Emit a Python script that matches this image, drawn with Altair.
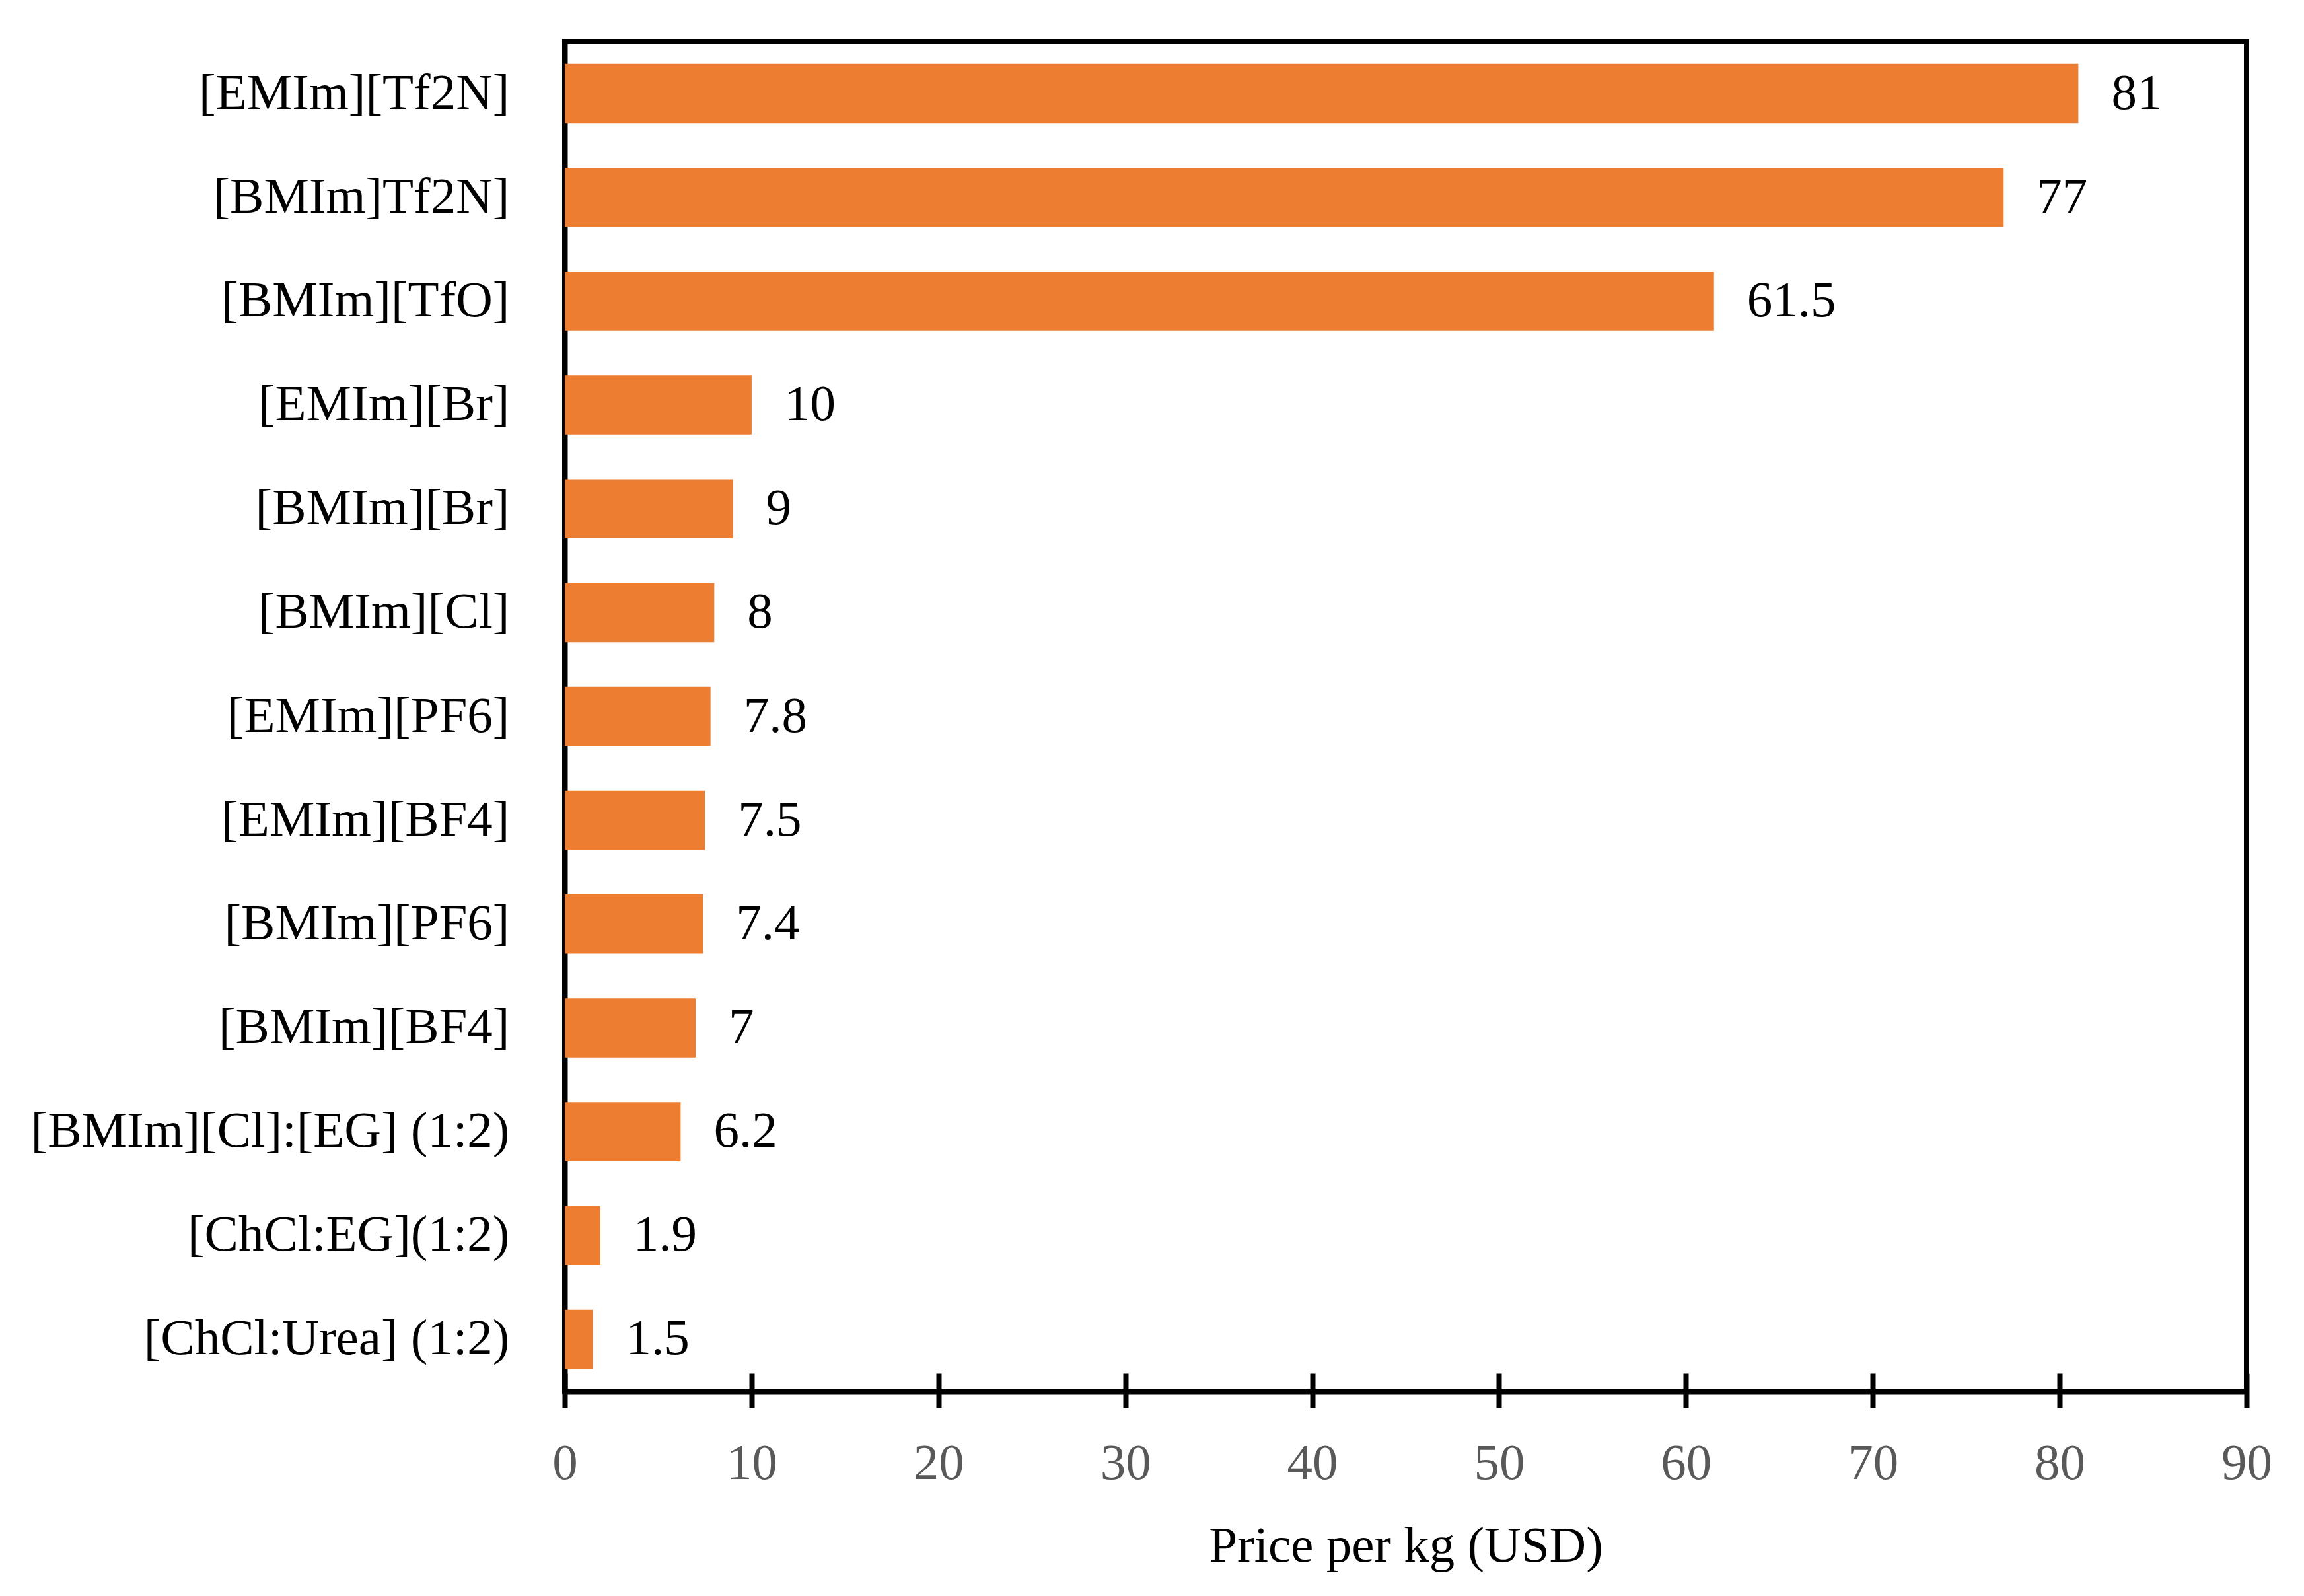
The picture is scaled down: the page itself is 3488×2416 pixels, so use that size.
import altair as alt
import pandas as pd

categories = [
    "[EMIm][Tf2N]",
    "[BMIm]Tf2N]",
    "[BMIm][TfO]",
    "[EMIm][Br]",
    "[BMIm][Br]",
    "[BMIm][Cl]",
    "[EMIm][PF6]",
    "[EMIm][BF4]",
    "[BMIm][PF6]",
    "[BMIm][BF4]",
    "[BMIm][Cl]:[EG] (1:2)",
    "[ChCl:EG](1:2)",
    "[ChCl:Urea] (1:2)",
]
prices = [81, 77, 61.5, 10, 9, 8, 7.8, 7.5, 7.4, 7, 6.2, 1.9, 1.5]
tick_values = [0, 10, 20, 30, 40, 50, 60, 70, 80, 90]

df = pd.DataFrame({
    "name": categories,
    "price": prices,
    "label": [f"{v:g}" for v in prices],
})

FONT = "Liberation Serif"
FS = 77
W, H = 2546, 2043
LW = 8

xscale = alt.Scale(domain=[0, 90], nice=False, zero=True)
yscale = alt.Scale(paddingInner=0.43, paddingOuter=0.215)

bars = alt.Chart(df).mark_bar(color="#ED7D31").encode(
    x=alt.X(
        "price:Q",
        scale=xscale,
        axis=alt.Axis(
            orient="bottom",
            values=tick_values,
            title="Price per kg (USD)",
            grid=False,
            domain=True,
            domainColor="black",
            domainWidth=LW,
            ticks=True,
            tickSize=25,
            tickWidth=LW,
            tickColor="black",
            labelFont=FONT,
            labelFontSize=FS,
            labelColor="#595959",
            labelBaseline="alphabetic",
            labelPadding=107,
            labelFlush=False,
            labelOverlap=False,
            titleFont=FONT,
            titleFontSize=FS,
            titleFontWeight="normal",
            titleColor="black",
            titleBaseline="alphabetic",
            titleY=257,
        ),
    ),
    y=alt.Y(
        "name:N",
        sort=categories,
        scale=yscale,
        axis=alt.Axis(
            title=None,
            grid=False,
            ticks=False,
            tickSize=0,
            domain=True,
            domainColor="black",
            domainWidth=LW,
            labelFont=FONT,
            labelFontSize=FS,
            labelColor="black",
            labelPadding=84,
            labelLimit=2000,
        ),
    ),
)

text = alt.Chart(df).mark_text(
    align="left", baseline="middle", dx=50, font=FONT, fontSize=FS, color="black"
).encode(
    x=alt.X(
        "price:Q",
        scale=xscale,
        axis=alt.Axis(
            orient="top",
            offset=-H,
            values=tick_values,
            labels=False,
            domain=False,
            grid=False,
            title=None,
            ticks=True,
            tickSize=27,
            tickWidth=LW,
            tickColor="black",
        ),
    ),
    y=alt.Y("name:N", sort=categories, scale=yscale),
    text="label:N",
)

chart = (
    alt.layer(bars, text)
    .resolve_axis(x="independent")
    .properties(
        width=W,
        height=H,
        autosize=alt.AutoSizeParams(type="none"),
        padding={"left": 847, "top": 55, "right": 79, "bottom": 302},
        background="white",
    )
    .configure_view(stroke="black", strokeWidth=LW)
)

chart.save("out.html", embed_options={"renderer": "svg", "actions": False})
